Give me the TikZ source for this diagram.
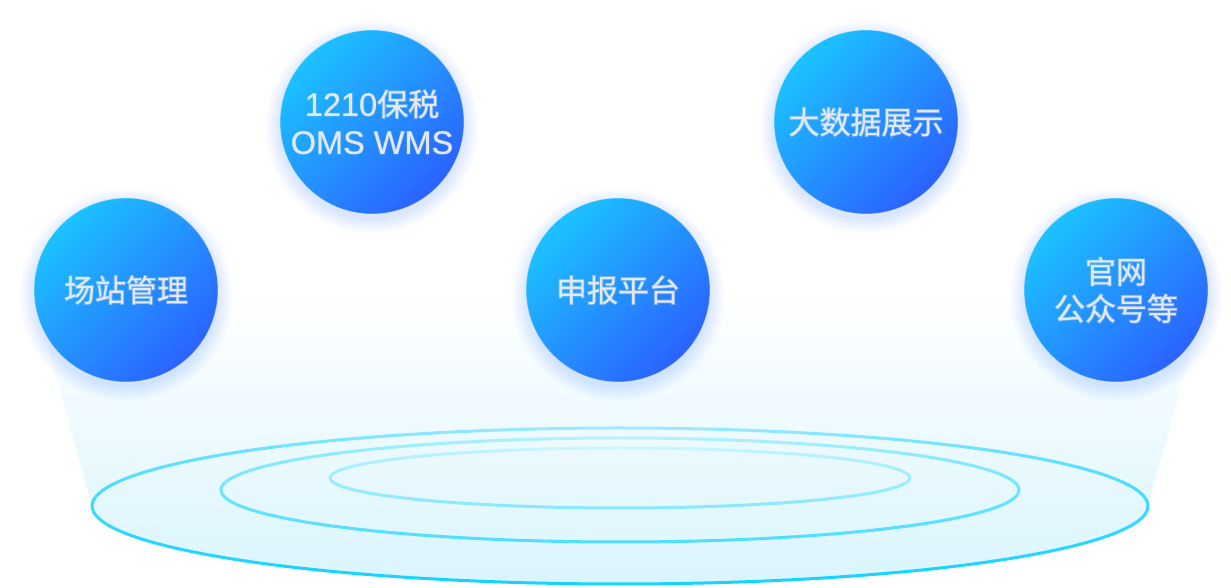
\documentclass[tikz,border=0pt]{standalone}
\usepackage{fontspec}
\setmainfont{Liberation Sans}[FakeBold=3]
\newfontfamily\cjk{Noto Sans CJK SC}[FakeBold=5]
\definecolor{cA}{HTML}{1CC2FF}
\definecolor{cB}{HTML}{2B62FF}
\definecolor{txt}{HTML}{E3E8F1}
\definecolor{beam}{HTML}{DAF5FE}
\definecolor{glowc}{HTML}{6AA4FF}
\definecolor{oB}{HTML}{14D4FF}
\definecolor{oL}{HTML}{9FEDFF}
\definecolor{mB}{HTML}{4FDFFF}
\definecolor{mL}{HTML}{B8F3FF}
\definecolor{iB}{HTML}{8AE9FF}
\definecolor{iL}{HTML}{CFF7FF}
\newcommand\gradell[6]{%
  \foreach \a in {0,5,...,355}{%
    \pgfmathtruncatemacro\p{100*sqrt((1-sin(\a+2.5))/2)}%
    \draw[line width=3pt, line cap=round, color=#5!\p!#6] (#1,#2) ++(\a:#3 and #4) arc[start angle=\a, end angle=\a+5, x radius=#3, y radius=#4];
  }}
\begin{document}
\begin{tikzpicture}[x=1pt,y=1pt,
  bubble/.style={circle, minimum size=184pt, inner sep=0pt, top color=cA, bottom color=cB, shading angle=45, text=txt, align=center, font=\fontsize{32.5}{38}\selectfont, draw=white, draw opacity=0.35, line width=1pt},
  cjkbubble/.style={bubble, font=\cjk\fontsize{31}{37}\selectfont}]
\useasboundingbox (0,0) rectangle (1231,588);
\fill[white] (0,0) rectangle (1231,588);
\coordinate (pA) at (126,298);
\coordinate (pB) at (372,466);
\coordinate (pC) at (618,298);
\coordinate (pD) at (866,466);
\coordinate (pE) at (1116,298);
% light beam
\shade[top color=white, bottom color=beam] (pA) -- (47,245) -- (92,82) arc[start angle=180, end angle=360, x radius=528, y radius=78] -- (1193,245) -- (pE) -- cycle;
% rings
\gradell{620}{82}{528}{78}{oB}{oL}
\gradell{620}{98}{399}{52}{mB}{mL}
\gradell{620}{110}{290}{30}{iB}{iL}
% glows
\foreach \c in {pA,pB,pC,pD,pE}{
  \foreach \k in {1,...,12}{
    \fill[glowc, opacity=0.018] ([yshift=-5pt]\c) circle[radius=91+1.3*\k];
  }}
% bubbles
\node[cjkbubble] (A) at (pA) {场站管理};
\node[bubble] (B) at (pB) {1210{\cjk\fontsize{31}{38}\selectfont 保税}\\OMS WMS};
\node[cjkbubble] (C) at (pC) {申报平台};
\node[cjkbubble] (D) at (pD) {大数据展示};
\node[cjkbubble] (E) at (pE) {官网\\公众号等};
\end{tikzpicture}
\end{document}
